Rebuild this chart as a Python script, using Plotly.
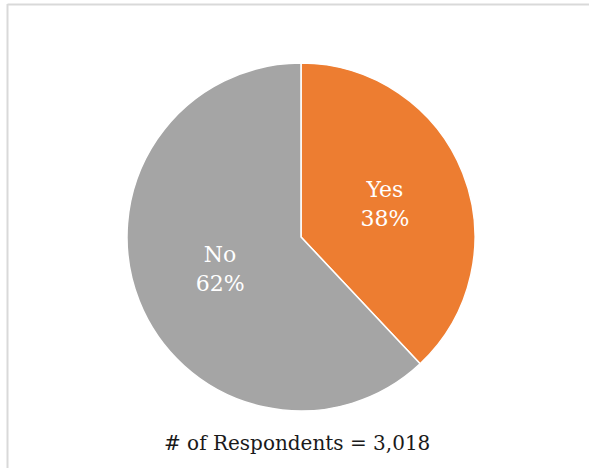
import plotly.graph_objects as go

labels = ["Yes", "No"]
values = [38, 62]
colors = ["#ED7D31", "#A5A5A5"]
note = "# of Respondents = 3,018"

W, H = 589, 468
cx0, cx1 = 127, 475
cy0, cy1 = 63, 411

fig = go.Figure(go.Pie(
    labels=labels,
    values=values,
    sort=False,
    direction="clockwise",
    rotation=0,
    marker=dict(colors=colors, line=dict(color="white", width=1.5)),
    texttemplate="%{label}<br>%{percent:.0%}",
    textposition="inside",
    insidetextorientation="horizontal",
    textfont=dict(family="DejaVu Serif", size=22, color="white"),
    hoverinfo="label+percent",
    domain=dict(x=[cx0 / W, cx1 / W], y=[1 - cy1 / H, 1 - cy0 / H]),
    showlegend=False,
))

fig.add_annotation(
    text=note, x=297 / W, y=1 - 443 / H, xref="paper", yref="paper",
    showarrow=False, xanchor="center", yanchor="middle",
    font=dict(family="DejaVu Serif", size=20, color="#1a1a1a"),
)

# chart frame (partially cropped)
fig.add_shape(type="line", xref="paper", yref="paper",
              x0=7.5 / W, x1=7.5 / W, y0=0, y1=1 - 4 / H,
              line=dict(color="#D9D9D9", width=2))
fig.add_shape(type="line", xref="paper", yref="paper",
              x0=7.5 / W, x1=1, y0=1 - 4.5 / H, y1=1 - 4.5 / H,
              line=dict(color="#D9D9D9", width=2))

fig.update_layout(
    width=W, height=H,
    margin=dict(l=0, r=0, t=0, b=0),
    paper_bgcolor="white", plot_bgcolor="white",
)

fig.write_html(
    "out.html",
    config={"displayModeBar": False},
    post_script="document.body.style.margin='0';document.body.style.overflow='hidden';",
)
